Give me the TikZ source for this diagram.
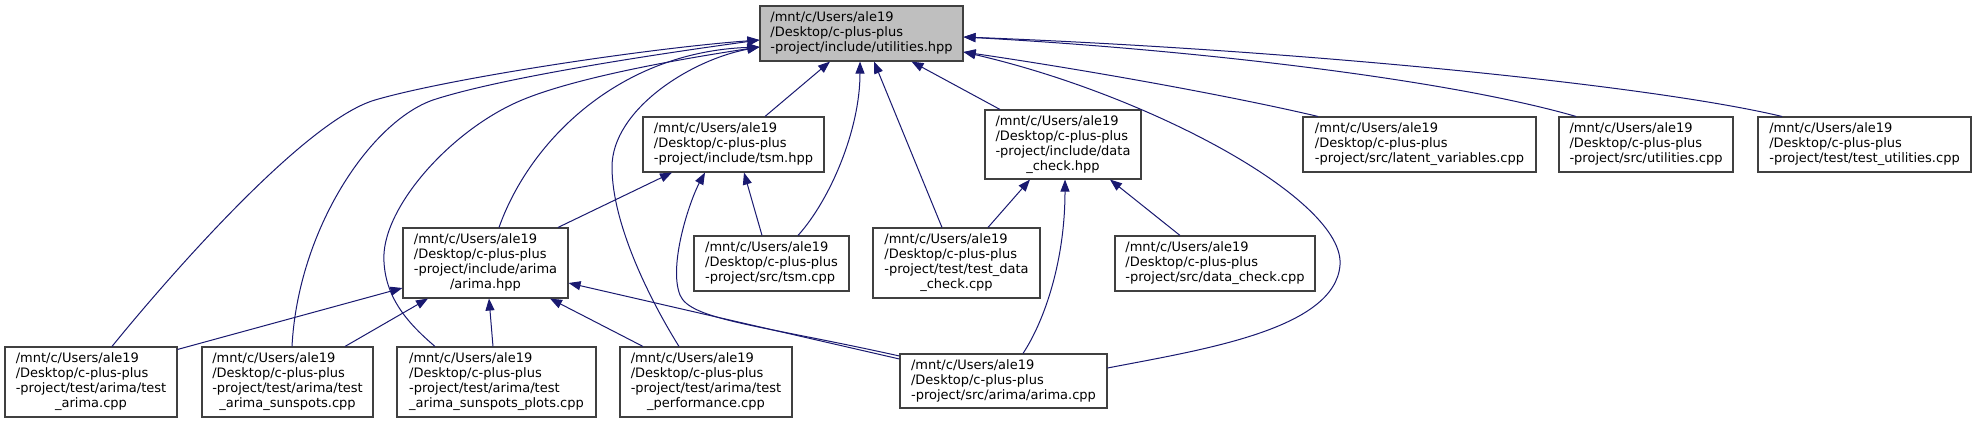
\documentclass[tikz,border=0pt]{standalone}
\usepackage{fontspec}
\setmainfont{DejaVu Sans}
\usetikzlibrary{arrows.meta}
\definecolor{edgeblue}{HTML}{191970}
\definecolor{boxline}{HTML}{404040}
\definecolor{rootfill}{HTML}{BFBFBF}
\newcommand{\threel}[1]{\begin{tabular}{@{}l@{}}/mnt/c/Users/ale19\\ /Desktop/c-plus-plus\\ #1\end{tabular}}
\newcommand{\fourl}[2]{\begin{tabular}{@{}l@{}}/mnt/c/Users/ale19\\ /Desktop/c-plus-plus\\ #1\\ \multicolumn{1}{@{}c@{}}{#2}\end{tabular}}
\begin{document}
\begin{tikzpicture}[x=1pt,y=-1pt,
  >={Triangle[length=12pt,width=9pt]},
  box/.style={draw=boxline, line width=1.1pt, fill=white, rectangle, inner sep=0pt,
    font=\fontsize{13}{15}\selectfont},
  dep/.style={draw=edgeblue, line width=1pt, <-}]
\useasboundingbox (0,0) rectangle (1977,423);
\fill[white] (0,0) rectangle (1977,423);

% nodes
\node[box, fill=rootfill, minimum width=203pt, minimum height=55pt] (root) at (861.5,33.5) {\threel{-project/include/utilities.hpp}};
\node[box, minimum width=181pt, minimum height=55pt] (tsmh) at (733.5,144.5) {\threel{-project/include/tsm.hpp}};
\node[box, minimum width=156pt, minimum height=69pt] (dch) at (1063,144.5) {\fourl{-project/include/data}{\_check.hpp}};
\node[box, minimum width=233pt, minimum height=55pt] (lat) at (1419.5,144.5) {\threel{-project/src/latent\_variables.cpp}};
\node[box, minimum width=174pt, minimum height=55pt] (sut) at (1646,144.5) {\threel{-project/src/utilities.cpp}};
\node[box, minimum width=213pt, minimum height=55pt] (tut) at (1864.5,144.5) {\threel{-project/test/test\_utilities.cpp}};
\node[box, minimum width=165pt, minimum height=70pt] (arh) at (485.5,263) {\fourl{-project/include/arima}{/arima.hpp}};
\node[box, minimum width=155pt, minimum height=55pt] (tsc) at (771.5,263.5) {\threel{-project/src/tsm.cpp}};
\node[box, minimum width=167pt, minimum height=70pt] (tdc) at (956.5,263) {\fourl{-project/test/test\_data}{\_check.cpp}};
\node[box, minimum width=200pt, minimum height=55pt] (dcc) at (1215,263.5) {\threel{-project/src/data\_check.cpp}};
\node[box, minimum width=172pt, minimum height=70pt] (ta) at (91,382) {\fourl{-project/test/arima/test}{\_arima.cpp}};
\node[box, minimum width=171pt, minimum height=70pt] (ts) at (287.5,382) {\fourl{-project/test/arima/test}{\_arima\_sunspots.cpp}};
\node[box, minimum width=199pt, minimum height=70pt] (tp) at (496.5,382) {\fourl{-project/test/arima/test}{\_arima\_sunspots\_plots.cpp}};
\node[box, minimum width=172pt, minimum height=70pt] (tpf) at (706,382) {\fourl{-project/test/arima/test}{\_performance.cpp}};
\node[box, minimum width=207pt, minimum height=54pt] (arc) at (1003.5,381) {\threel{-project/src/arima/arima.cpp}};

% root: bottom
\draw[dep] ([xshift=-31.5pt]root.south) -- ([xshift=31.5pt]tsmh.north);
\draw[dep] ([xshift=50pt]root.south) -- ([xshift=-63pt]dch.north);
\draw[dep] ([xshift=-1.5pt]root.south) .. controls (860,130) and (830,200) .. ([xshift=26.5pt]tsc.north);
\draw[dep] ([xshift=12.5pt]root.south) -- ([xshift=-14.5pt]tdc.north);
% root: right
\draw[dep] ([yshift=-3.5pt]root.east) .. controls (1300,50) and (1650,85) .. ([xshift=-82.5pt]tut.north);
\draw[dep] ([yshift=-3.5pt]root.east) .. controls (1200,50) and (1450,80) .. ([xshift=-70pt]sut.north);
\draw[dep] ([yshift=-18.5pt]root.east) .. controls (1100,72) and (1240,98) .. ([xshift=-101.5pt]lat.north);
\draw[dep] ([yshift=-18.5pt]root.east) .. controls (1150,95) and (1345,200) .. (1340,265) .. controls (1335,330) and (1200,350) .. ([yshift=13pt]arc.east);
% root: left
\draw[dep] ([yshift=-6.5pt]root.west) .. controls (650,48) and (450,78) .. (375,100) .. controls (300,122) and (152,297) .. ([xshift=21pt]ta.north);
\draw[dep] ([yshift=-6.5pt]root.west) .. controls (650,55) and (500,78) .. (433,100) .. controls (370,122) and (298,230) .. ([xshift=4.5pt]ts.north);
\draw[dep] ([yshift=-13.5pt]root.west) .. controls (660,62) and (570,80) .. (522,100) .. controls (450,130) and (380,210) .. (384,262) .. controls (386,300) and (410,325) .. ([xshift=-61.5pt]tp.north);
\draw[dep] ([yshift=-13.5pt]root.west) .. controls (620,52) and (530,140) .. ([xshift=13.5pt]arh.north);
\draw[dep] ([yshift=-13.5pt]root.west) .. controls (690,60) and (612,110) .. (612,167) .. controls (612,224) and (650,300) .. ([xshift=-27pt]tpf.north);

% tsm.hpp
\draw[dep] ([xshift=-61.5pt]tsmh.south) -- ([xshift=72.5pt]arh.north);
\draw[dep] ([xshift=10.5pt]tsmh.south) -- ([xshift=-9.5pt]tsc.north);
\draw[dep] ([xshift=-28.5pt]tsmh.south) .. controls (690,200) and (668,265) .. (680,295) .. controls (690,320) and (760,325) .. ([yshift=25pt]arc.west);

% arima.hpp
\draw[dep] ([yshift=-25pt]arh.west) -- ([yshift=-3pt]ta.north east);
\draw[dep] ([xshift=-57.5pt]arh.south) -- ([xshift=57.5pt]ts.north);
\draw[dep] ([xshift=3.5pt]arh.south) -- ([xshift=-3.5pt]tp.north);
\draw[dep] ([xshift=64.5pt]arh.south) -- ([xshift=-63pt]tpf.north);
\draw[dep] ([yshift=-20pt]arh.east) -- ([yshift=22pt]arc.west);

% data_check.hpp
\draw[dep] ([xshift=-33pt]dch.south) -- ([xshift=31.5pt]tdc.north);
\draw[dep] ([xshift=2pt]dch.south) .. controls (1065,260) and (1045,320) .. ([xshift=19.5pt]arc.north);
\draw[dep] ([xshift=47pt]dch.south) -- ([xshift=-35pt]dcc.north);
\end{tikzpicture}
\end{document}
